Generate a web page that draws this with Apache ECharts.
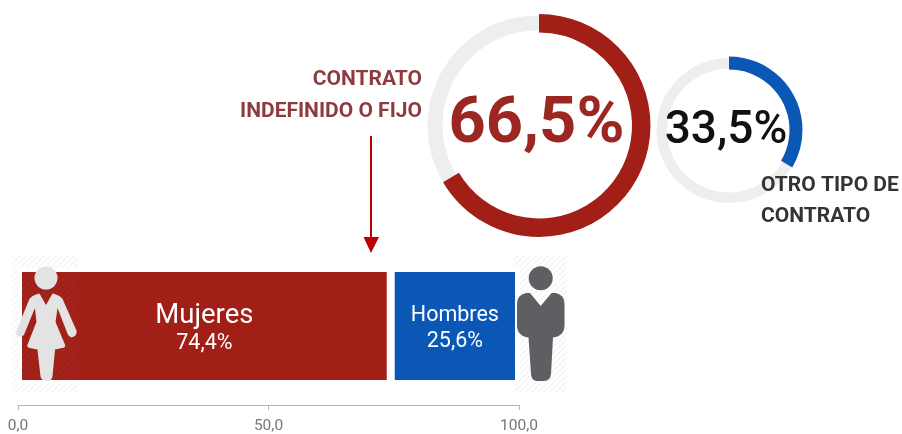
<!DOCTYPE html>
<html>
<head>
<meta charset="utf-8">
<script src="https://cdn.jsdelivr.net/npm/echarts@6/dist/echarts.min.js"></script>
<style>
  html, body { margin: 0; padding: 0; background: #fff; }
  #chart { width: 902px; height: 434px; }
</style>
</head>
<body>
<div id="chart"></div>
<script>
// data
var genderNames = ['Mujeres', 'Hombres'];
var genderValues = [74.4, 25.6];
var contractNames = ['Contrato indefinido o fijo', 'Otro tipo de contrato'];
var contractValues = [66.5, 33.5];
var axisTicks = [0, 50, 100];

var RED = '#a11f17';
var BLUE = '#0a57b6';
var TRACK = '#eeeeee';

function comma(v) {
  return v.toFixed(1).replace('.', ',');
}

// faint diagonal hatch behind the two figures
function hatch(alpha) {
  var c = document.createElement('canvas');
  c.width = 6;
  c.height = 6;
  var g = c.getContext('2d');
  g.strokeStyle = 'rgba(200,200,200,' + alpha + ')';
  g.lineWidth = 1.5;
  g.beginPath();
  g.moveTo(-1, 1); g.lineTo(1, -1);
  g.moveTo(0, 6); g.lineTo(6, 0);
  g.moveTo(5, 7); g.lineTo(7, 5);
  g.stroke();
  return { image: c, repeat: 'repeat' };
}

function ring(center, radius, index, color) {
  return {
    type: 'pie',
    silent: true,
    center: center,
    radius: radius,
    startAngle: 90,
    clockwise: true,
    label: { show: false },
    labelLine: { show: false },
    data: [
      { name: contractNames[index], value: contractValues[index], itemStyle: { color: color } },
      { name: contractNames[1 - index], value: contractValues[1 - index], itemStyle: { color: 'transparent' } }
    ]
  };
}

function track(center, radius) {
  return {
    type: 'pie',
    silent: true,
    center: center,
    radius: radius,
    label: { show: false },
    labelLine: { show: false },
    data: [{ value: 1, itemStyle: { color: TRACK } }]
  };
}

function bar(i, nameSize, lineGap, shift) {
  return {
    type: 'bar',
    name: genderNames[i],
    stack: 'total',
    barWidth: '100%',
    silent: true,
    itemStyle: { color: i === 0 ? RED : BLUE, borderColor: '#fff', borderWidth: 4 },
    label: {
      show: true,
      position: 'inside',
      offset: [0, shift],
      formatter: function () {
        return '{n|' + genderNames[i] + '}\n{v|' + comma(genderValues[i]) + '%}';
      },
      rich: {
        n: { color: '#fff', fontFamily: 'Roboto', fontSize: nameSize, lineHeight: lineGap },
        v: { color: '#fff', fontFamily: 'Roboto', fontSize: 21.5, lineHeight: 24 }
      }
    },
    data: [genderValues[i]]
  };
}

function text(x, y, str, size, color, align, weight) {
  return {
    type: 'text',
    x: x,
    y: y,
    z: 10,
    style: {
      text: str,
      fontFamily: 'Roboto',
      fontSize: size,
      fontWeight: weight,
      fill: color,
      align: align,
      verticalAlign: 'middle'
    }
  };
}

// the two figures, only custom series can draw svg path data
function figure(pathData, box, head, color) {
  return {
    type: 'custom',
    coordinateSystem: 'none',
    silent: true,
    z: 8,
    data: [0],
    renderItem: function () {
      return {
        type: 'group',
        children: [
          { type: 'circle', shape: { cx: head[0], cy: head[1], r: head[2] }, style: { fill: color } },
          {
            type: 'path',
            shape: { pathData: pathData, layout: 'cover', x: box[0], y: box[1], width: box[2], height: box[3] },
            style: { fill: color }
          }
        ]
      };
    }
  };
}

var womanPath = 'M39.5 293.5 L46 305 L52.5 293.5 Q60 295 62.5 299 L76.5 331 Q77 336 71.5 337.5 Q69 337 67.5 334 ' +
  'L57.5 308 L55.5 322 L65 345 Q65.5 347.5 62 348 L55 349.5 L52.5 376 Q52 381 47 381 Q41 381 40.5 376 ' +
  'L37.5 349.5 L30 348 Q26.5 347 27.5 345 L36.5 322 L35 308 L24 335 Q21 338 17.5 336 Q15.5 334 16.5 331 ' +
  'L29.5 299 Q32 295 39.5 293.5 Z';
var manPath = 'M530 293 L540.7 306 L551.5 293 L556 293 Q564.5 295 564.5 304 L564.5 325 Q564.5 336 553 337.5 ' +
  'L551 374 Q550.5 381 544 381 L537 381 Q531.5 381 531 374 L528.5 337.5 Q517 336 517 325 L517 304 Q517 295 526 293 Z';

var chart = echarts.init(document.getElementById('chart'), null, { renderer: 'canvas' });

var pattern = hatch(0.2);
var graphics = [
  // under the bars on white, and very faint where it crosses the red bar
  { type: 'rect', z: 1, shape: { x: 12, y: 256, width: 66, height: 136 }, style: { fill: pattern } },
  { type: 'rect', z: 1, shape: { x: 514, y: 256, width: 53, height: 136 }, style: { fill: pattern } },
  { type: 'rect', z: 7, shape: { x: 22, y: 272, width: 56, height: 109 }, style: { fill: hatch(0.05) } },
  // arrow from the label down to the bar
  { type: 'line', z: 8, shape: { x1: 371, y1: 136, x2: 371, y2: 240 }, style: { stroke: '#c00000', lineWidth: 2 } },
  { type: 'polygon', z: 8, shape: { points: [[363.5, 237], [379, 237], [371, 253]] }, style: { fill: '#c00000' } },
  text(536.5, 126, comma(contractValues[0]) + '%', 65, '#9c2622', 'center', 700),
  text(726, 131, comma(contractValues[1]) + '%', 46, '#111111', 'center', 500),
  text(422, 80, 'CONTRATO', 21, '#8e3a40', 'right', 700),
  text(422, 112, 'INDEFINIDO O FIJO', 21, '#8e3a40', 'right', 700),
  text(761, 186, 'OTRO TIPO DE', 21, '#333333', 'left', 700),
  text(761, 217, 'CONTRATO', 21, '#333333', 'left', 700)
];

chart.setOption({
  animation: false,
  backgroundColor: '#fff',
  grid: { left: 18, right: 383, top: 268, bottom: 48 },
  xAxis: {
    type: 'value',
    min: axisTicks[0],
    max: axisTicks[axisTicks.length - 1],
    interval: axisTicks[1] - axisTicks[0],
    position: 'bottom',
    offset: 21,
    splitLine: { show: false },
    axisLine: { show: true, lineStyle: { color: '#b5b5b5', width: 1 } },
    axisTick: { show: true, length: 5, lineStyle: { color: '#b5b5b5' } },
    axisLabel: {
      color: '#777',
      fontFamily: 'Roboto',
      fontSize: 15.5,
      margin: 13,
      formatter: function (v) { return comma(v); }
    }
  },
  yAxis: { type: 'category', data: ['total'], show: false },
  series: [
    track([537.5, 125.5], [95, 110]),
    ring([539, 125.5], [93, 111.5], 0, RED),
    track([729, 130.5], [62, 72.5]),
    ring([729, 130], [60.5, 73.5], 1, BLUE),
    bar(0, 27.5, 32, 2),
    bar(1, 21.5, 27, 2),
    figure(womanPath, [16, 293.5, 60.7, 87.5], [46, 278, 11.5], '#e3e3e3'),
    figure(manPath, [517, 293, 47.5, 88], [540.7, 278.3, 12], '#5f5e63')
  ],
  graphic: graphics
});
</script>
</body>
</html>
